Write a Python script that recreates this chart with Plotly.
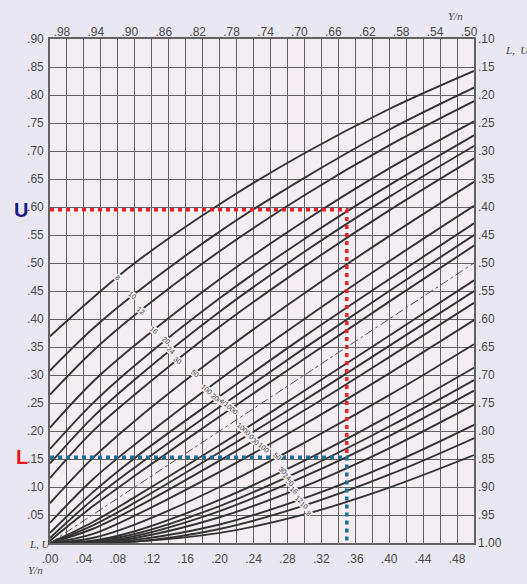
import numpy as np
import plotly.graph_objects as go

# ---------------- data ----------------
x_pts = [0.0, 0.05, 0.10, 0.20, 0.30, 0.40, 0.50]
sample_sizes = ["8", "10", "12", "16", "20", "24", "30", "50", "100", "200", "400", "1000"]

# upper limit curves U (one per sample size)
U8 = [0.369, 0.437, 0.500, 0.605, 0.696, 0.775, 0.843]
U10 = [0.308, 0.382, 0.445, 0.556, 0.652, 0.738, 0.813]
U12 = [0.265, 0.342, 0.407, 0.521, 0.621, 0.710, 0.789]
U16 = [0.206, 0.287, 0.353, 0.471, 0.575, 0.669, 0.753]
U20 = [0.168, 0.249, 0.317, 0.437, 0.543, 0.639, 0.728]
U24 = [0.142, 0.224, 0.292, 0.413, 0.520, 0.618, 0.709]
U30 = [0.116, 0.199, 0.265, 0.386, 0.494, 0.594, 0.687]
U50 = [0.071, 0.151, 0.218, 0.337, 0.446, 0.548, 0.645]
U100 = [0.036, 0.113, 0.176, 0.292, 0.400, 0.503, 0.602]
U200 = [0.018, 0.090, 0.152, 0.262, 0.369, 0.471, 0.571]
U400 = [0.009, 0.077, 0.135, 0.243, 0.348, 0.450, 0.550]
U1000 = [0.004, 0.065, 0.120, 0.226, 0.329, 0.431, 0.531]

# lower limit curves L (one per sample size)
L8 = [0.0, 0.0013, 0.0026, 0.018, 0.051, 0.099, 0.157]
L10 = [0.0, 0.0013, 0.0025, 0.025, 0.067, 0.122, 0.187]
L12 = [0.0, 0.0010, 0.0055, 0.033, 0.080, 0.140, 0.211]
L16 = [0.0, 0.0012, 0.0090, 0.046, 0.101, 0.169, 0.247]
L20 = [0.0, 0.0013, 0.0123, 0.057, 0.119, 0.191, 0.272]
L24 = [0.0, 0.0030, 0.016, 0.066, 0.132, 0.208, 0.291]
L30 = [0.0, 0.0040, 0.021, 0.077, 0.147, 0.227, 0.313]
L50 = [0.0, 0.0090, 0.033, 0.100, 0.179, 0.264, 0.355]
L100 = [0.0, 0.016, 0.049, 0.127, 0.212, 0.303, 0.398]
L200 = [0.0, 0.025, 0.062, 0.147, 0.237, 0.332, 0.429]
L400 = [0.0, 0.031, 0.072, 0.162, 0.255, 0.352, 0.450]
L1000 = [0.0, 0.037, 0.082, 0.175, 0.272, 0.370, 0.469]

# worked example: Y/n = .35 read to U and L
example_p = 0.35
example_U = 0.595
example_L = 0.153

# axis tick labels
bottom_ticks = [0.00, 0.04, 0.08, 0.12, 0.16, 0.20, 0.24, 0.28, 0.32, 0.36, 0.40, 0.44, 0.48]
bottom_text = [".00", ".04", ".08", ".12", ".16", ".20", ".24", ".28", ".32", ".36", ".40", ".44", ".48"]
top_ticks = [0.02, 0.06, 0.10, 0.14, 0.18, 0.22, 0.26, 0.30, 0.34, 0.38, 0.42, 0.46, 0.50]
top_text = [".98", ".94", ".90", ".86", ".82", ".78", ".74", ".70", ".66", ".62", ".58", ".54", ".50"]
left_ticks = [0.05, 0.10, 0.15, 0.20, 0.25, 0.30, 0.35, 0.40, 0.45, 0.50, 0.55, 0.60, 0.65, 0.70, 0.75, 0.80, 0.85, 0.90]
left_text = [".05", ".10", ".15", ".20", ".25", ".30", ".35", ".40", ".45", ".50", ".55", ".60", ".65", ".70", ".75", ".80", ".85", ".90"]
right_ticks = [0.0] + left_ticks
right_text = ["1.00", ".95", ".90", ".85", ".80", ".75", ".70", ".65", ".60", ".55", ".50", ".45", ".40", ".35", ".30", ".25", ".20", ".15", ".10"]

# where along Y/n the curve labels sit
upper_label_x = [0.080, 0.097, 0.107, 0.123, 0.137, 0.143, 0.151, 0.171, 0.185, 0.197, 0.206, 0.214]
lower_label_x = [0.305, 0.300, 0.294, 0.288, 0.283, 0.279, 0.275, 0.268, 0.252, 0.241, 0.2345, 0.229]

upper_curves = [U8, U10, U12, U16, U20, U24, U30, U50, U100, U200, U400, U1000]
lower_curves = [L8, L10, L12, L16, L20, L24, L30, L50, L100, L200, L400, L1000]

# ---------------- styling ----------------
PAPER = "#e9e8f0"
PLOT = "#f4eef3"
GRID = "#626262"
CURVE = "#333333"
TICKFONT = dict(family="Liberation Sans Narrow, Liberation Sans, Arial", size=12, color="#4a4a4a")

fig = go.Figure()

for name, ys in zip(sample_sizes, upper_curves):
    fig.add_trace(go.Scatter(x=x_pts, y=ys, mode="lines", line=dict(color=CURVE, width=1.9, shape="spline"),
                             name="U n=" + name, showlegend=False, hoverinfo="skip"))
for name, ys in zip(sample_sizes, lower_curves):
    fig.add_trace(go.Scatter(x=x_pts, y=ys, mode="lines", line=dict(color=CURVE, width=1.9, shape="spline"),
                             name="L n=" + name, showlegend=False, hoverinfo="skip"))

# diagonal Y/n line (dash-dot) on the secondary axes (same scale)
fig.add_trace(go.Scatter(x=[0.0, 0.5], y=[0.0, 0.5], xaxis="x2", yaxis="y2", mode="lines",
                         line=dict(color="#555555", width=1, dash="dashdot"), showlegend=False, hoverinfo="skip"))

# worked example lines
fig.add_trace(go.Scatter(x=[0.0, example_p, example_p], y=[example_U, example_U, example_L], mode="lines",
                         line=dict(color="#e8232a", width=3.5, dash="4px,4px"), showlegend=False, hoverinfo="skip"))
fig.add_trace(go.Scatter(x=[0.0, example_p, example_p], y=[example_L, example_L, 0.004], mode="lines",
                         line=dict(color="#1f6e9c", width=3.5, dash="4px,4px"), showlegend=False, hoverinfo="skip"))

# curve labels
LABELFONT = dict(family="Liberation Sans Narrow, Liberation Sans, Arial", size=7, color="#333333")
for name, ys, lx in zip(sample_sizes, upper_curves, upper_label_x):
    fig.add_annotation(x=lx, y=float(np.interp(lx, x_pts, ys)), text=name, showarrow=False, textangle=40,
                       font=LABELFONT, bgcolor=PLOT, borderpad=0)
for name, ys, lx in zip(sample_sizes, lower_curves, lower_label_x):
    fig.add_annotation(x=lx, y=float(np.interp(lx, x_pts, ys)), text=name, showarrow=False, textangle=40,
                       font=LABELFONT, bgcolor=PLOT, borderpad=0)

# side letters U / L
fig.add_annotation(x=-0.09, xref="paper", y=example_U, yref="y", text="<b>U</b>", showarrow=False,
                   font=dict(family="Liberation Sans, Arial", size=20, color="#1b1b8a"))
fig.add_annotation(x=-0.085, xref="paper", y=example_L, yref="y", text="<b>L</b>", showarrow=False,
                   font=dict(family="Liberation Sans, Arial", size=20, color="#e8141e"))

# axis captions
CAPFONT = dict(family="Liberation Serif, DejaVu Serif", size=11, color="#444444")
fig.add_annotation(x=-0.054, xref="paper", y=-0.018, yref="paper", text="<i>L, U'</i>", showarrow=False, font=CAPFONT)
fig.add_annotation(x=-0.057, xref="paper", y=-0.069, yref="paper", text="<i>Y/n</i>", showarrow=False, font=CAPFONT)
fig.add_annotation(x=0.979, xref="paper", y=1.0615, yref="paper", text="<i>Y/n</i>", showarrow=False, font=CAPFONT)
fig.add_annotation(x=1.068, xref="paper", y=0.994, yref="paper", text="<i>L,  U</i>", showarrow=False,
                   xanchor="left", font=CAPFONT)

fig.update_layout(
    width=527, height=584,
    margin=dict(l=50, r=53, t=39, b=41),
    paper_bgcolor=PAPER, plot_bgcolor=PLOT,
    showlegend=False,
    xaxis=dict(range=[0, 0.5], tickvals=bottom_ticks, ticktext=bottom_text, tickfont=TICKFONT,
               showgrid=True, gridcolor=GRID, gridwidth=1.2, zeroline=False, automargin=False,
               minor=dict(dtick=0.02, tick0=0, showgrid=True, gridcolor=GRID, gridwidth=1.2),
               showline=True, linecolor=GRID, linewidth=1.6, mirror=True, ticks="", ticklabelstandoff=4),
    xaxis2=dict(range=[0, 0.5], overlaying="x", side="top", tickvals=top_ticks, ticktext=top_text,
                tickfont=TICKFONT, showgrid=False, zeroline=False, ticks="", automargin=False,
                ticklabelshift=-5),
    yaxis=dict(range=[0, 0.9], tickvals=left_ticks, ticktext=left_text, tickfont=TICKFONT,
               showgrid=True, gridcolor=GRID, gridwidth=1.2, zeroline=False, automargin=False,
               showline=True, linecolor=GRID, linewidth=1.6, mirror=True, ticks="", ticklabelstandoff=2),
    yaxis2=dict(range=[0, 0.9], overlaying="y", side="right", tickvals=right_ticks, ticktext=right_text,
                tickfont=TICKFONT, showgrid=False, zeroline=False, ticks="", automargin=False,
                ticklabelstandoff=3),
)

fig.write_html("out.html", config={"displayModeBar": False},
               post_script="document.body.style.margin='0px';document.body.style.padding='0px';")
